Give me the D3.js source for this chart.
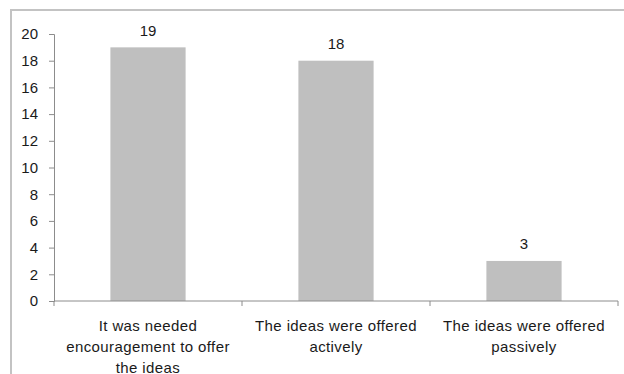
<!DOCTYPE html>
<html>
<head>
<meta charset="utf-8">
<script src="https://cdn.jsdelivr.net/npm/d3@7"></script>
<style>
  html, body { margin: 0; padding: 0; background: #fff; }
  svg { display: block; }
  text { font-family: "Liberation Sans", Arial, sans-serif; fill: #1a1a1a; }
</style>
</head>
<body>
<svg id="chart" width="624" height="374"></svg>
<script>
// Responses about how ideas were offered
const categories = [
  "It was needed encouragement to offer the ideas",
  "The ideas were offered actively",
  "The ideas were offered passively"
];
const categoryLines = [
  ["It was needed", "encouragement  to offer", "the ideas"],
  ["The ideas were offered", "actively"],
  ["The ideas were offered", "passively"]
];
const counts = [19, 18, 3];
const yTicks = [0, 2, 4, 6, 8, 10, 12, 14, 16, 18, 20];

const svg = d3.select("#chart");

// outer frame of the chart area
svg.append("rect")
  .attr("x", 11).attr("y", 10)
  .attr("width", 640).attr("height", 400)
  .attr("fill", "none")
  .attr("stroke", "#c3c3c3")
  .attr("stroke-width", 2);

const plotLeft = 54, plotRight = 618, plotTop = 34, plotBottom = 301;

const x = d3.scaleBand()
  .domain(categories)
  .range([plotLeft, plotRight])
  .paddingInner(0.6)
  .paddingOuter(0.3);

const xOuter = d3.scaleBand()
  .domain(categories)
  .range([plotLeft, plotRight]);

const y = d3.scaleLinear().domain([0, 20]).range([plotBottom, plotTop]);

// bars
svg.selectAll("rect.bar")
  .data(counts)
  .join("rect")
  .attr("class", "bar")
  .attr("x", (d, i) => x(categories[i]))
  .attr("width", x.bandwidth())
  .attr("y", d => y(d))
  .attr("height", d => y(0) - y(d))
  .attr("fill", "#bfbfbf");

// value labels
svg.selectAll("text.value")
  .data(counts)
  .join("text")
  .attr("class", "value")
  .attr("x", (d, i) => x(categories[i]) + x.bandwidth() / 2)
  .attr("y", d => y(d) - 11.5)
  .attr("text-anchor", "middle")
  .attr("font-size", 15)
  .text(d => d);

// y axis
const yAxis = svg.append("g")
  .attr("transform", `translate(${plotLeft},0)`)
  .call(d3.axisLeft(y).tickValues(yTicks).tickSize(5).tickPadding(11));
yAxis.selectAll("path, line").attr("stroke", "#8c8c8c");
yAxis.selectAll("text")
  .attr("font-size", 15)
  .attr("font-family", "Liberation Sans, Arial, sans-serif")
  .attr("fill", "#1a1a1a");

// x axis baseline with ticks at category boundaries
const xAxisG = svg.append("g");
xAxisG.append("line")
  .attr("x1", plotLeft).attr("x2", plotRight)
  .attr("y1", plotBottom).attr("y2", plotBottom)
  .attr("stroke", "#8c8c8c");
const boundaries = categories.map(c => xOuter(c)).concat([plotRight]);
xAxisG.selectAll("line.tick")
  .data(boundaries)
  .join("line")
  .attr("class", "tick")
  .attr("x1", d => d).attr("x2", d => d)
  .attr("y1", plotBottom).attr("y2", plotBottom + 5)
  .attr("stroke", "#8c8c8c");

// category labels
const catG = svg.selectAll("text.cat")
  .data(categories)
  .join("text")
  .attr("class", "cat")
  .attr("text-anchor", "middle")
  .attr("font-size", 15)
  .attr("letter-spacing", 0.4);
catG.each(function(c, i) {
  const cx = xOuter(c) + xOuter.bandwidth() / 2;
  d3.select(this).selectAll("tspan")
    .data(categoryLines[i])
    .join("tspan")
    .attr("x", cx)
    .attr("y", (d, j) => 331 + j * 21)
    .text(d => d);
});
</script>
</body>
</html>
